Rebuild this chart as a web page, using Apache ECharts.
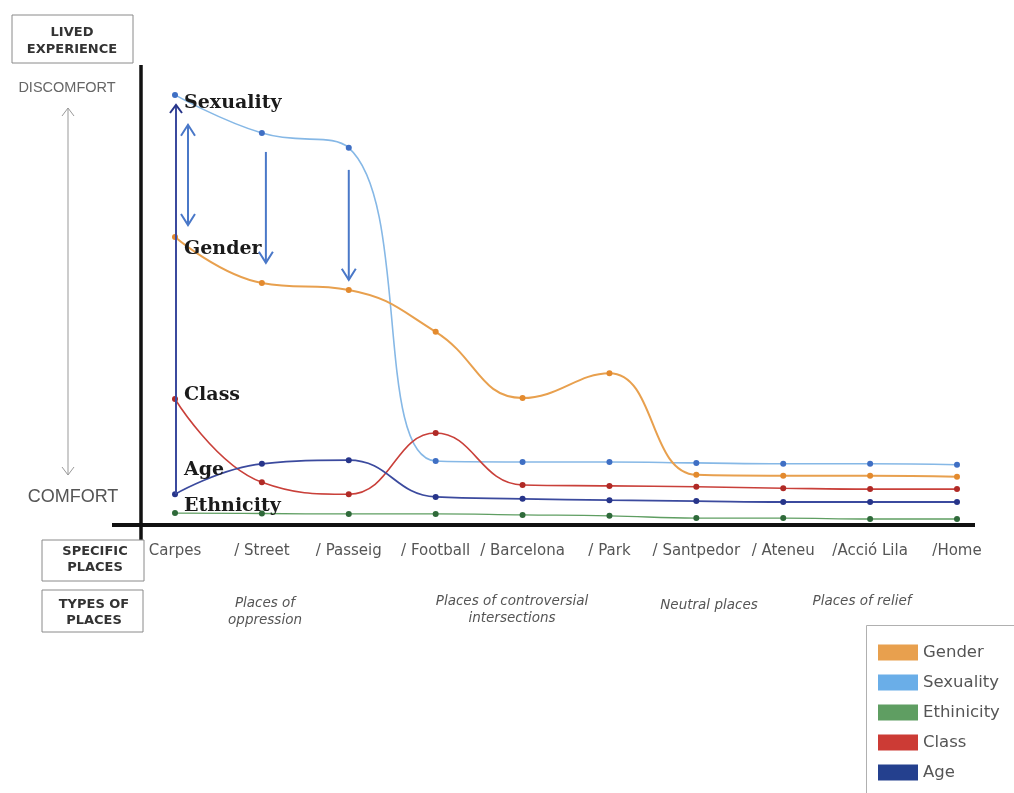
<!DOCTYPE html>
<html>
<head>
<meta charset="utf-8">
<script src="https://cdn.jsdelivr.net/npm/echarts@6/dist/echarts.min.js"></script>
<style>
html,body{margin:0;padding:0;background:#fff;}
#chart{width:1014px;height:793px;}
</style>
</head>
<body>
<div id="chart"></div>
<script>
// ---- data ----
var categories = ["Carpes","Street","Passeig","Football","Barcelona","Park","Santpedor","Ateneu","Acció Lila","Home"];
var tickLabels = ["Carpes","/ Street","/ Passeig","/ Football","/ Barcelona","/ Park","/ Santpedor","/ Ateneu","/Acció Lila","/Home"];
var seriesNames = ["Gender","Sexuality","Ethinicity","Class","Age"];
var seriesLabels = ["Gender","Sexuality","Ethnicity","Class","Age"];
var gender     = [62.6, 52.6, 51.1, 42.0, 27.6, 33.0, 10.9, 10.7, 10.7, 10.5];
var sexuality  = [93.5, 85.2, 82.0, 13.9, 13.7, 13.7, 13.5, 13.3, 13.3, 13.1];
var ethnicity  = [2.6, 2.5, 2.4, 2.4, 2.2, 2.0, 1.5, 1.5, 1.3, 1.3];
var classVals  = [27.4, 9.3, 6.7, 20.0, 8.7, 8.5, 8.3, 8.0, 7.8, 7.8];
var age        = [6.7, 13.3, 14.1, 6.1, 5.7, 5.4, 5.2, 5.0, 5.0, 5.0];
// annotation arrows (category index, from value, to value)
var arrowCats  = [0, 1, 2];
var arrowFrom  = [87.0, 81.1, 77.2];
var arrowTo    = [65.2, 57.0, 53.3];
var ageArrowTop = 91.3;
var placeTypes = [["Places of","oppression"],["Places of controversial","intersections"],["Neutral places"],["Places of relief"]];

var values = [gender, sexuality, ethnicity, classVals, age];
var lineColors  = ["#E8A04E","#86B8E6","#5F9E62","#C9403A","#3B4A9E"];
var pointColors = ["#E38A2E","#3F6FC4","#2F6A3A","#B02A26","#27358A"];
var legendColors= ["#E8A04E","#6AAEE8","#5F9E62","#CC3B35","#24408E"];
var lineWidths  = [2, 1.6, 1.3, 1.6, 1.8];
var labelOffsets= [[0,12],[0,8],[0,-7],[0,-4],[0,-24]];

var chart = echarts.init(document.getElementById('chart'));

var series = values.map(function(arr, k){
  return {
    name: seriesNames[k],
    type: 'line',
    smooth: 0.45,
    symbol: 'circle',
    symbolSize: 6,
    z: k === 1 ? 3 : 4,
    lineStyle: {color: lineColors[k], width: lineWidths[k]},
    itemStyle: {color: pointColors[k]},
    data: arr.map(function(v, i){
      if (i === 0) {
        return {value: v, label: {
          show: true, position: 'right', distance: 6, offset: labelOffsets[k],
          formatter: seriesLabels[k],
          fontFamily: 'DejaVu Serif', fontWeight: 'bold', fontSize: 19, color: '#1a1a1a'
        }};
      }
      return v;
    })
  };
});

chart.setOption({
  animation: false,
  backgroundColor: '#ffffff',
  grid: {left: 175, right: 57, top: 65, bottom: 268},
  xAxis: {
    type: 'category', data: categories, boundaryGap: false,
    axisLine: {show: false}, axisTick: {show: false},
    axisLabel: {
      interval: 0, margin: 19, color: '#555', fontSize: 15, fontFamily: 'DejaVu Sans',
      formatter: function(v, i){ return tickLabels[i]; }
    },
    splitLine: {show: false}
  },
  yAxis: {
    type: 'value', min: 0, max: 100,
    axisLine: {show: false}, axisTick: {show: false}, axisLabel: {show: false}, splitLine: {show: false}
  },
  legend: {
    orient: 'vertical', left: 878, top: 644, bottom: 0,
    padding: 0, z: 20,
    itemWidth: 40, itemHeight: 16, itemGap: 13, icon: 'rect',
    textStyle: {color: '#555', fontSize: 16.5, fontFamily: 'DejaVu Sans'},
    data: seriesNames.map(function(n, k){ return {name: n, itemStyle: {color: legendColors[k]}}; })
  },
  series: series
});

// ---- annotations / decorations ----
function px(i, v){ return chart.convertToPixel({gridIndex: 0}, [i, v]); }
function chevron(x, y, dir, hw, h, color, lw){
  return {type: 'polyline', z: 10, shape: {points: [[x - hw, y - dir * h], [x, y], [x + hw, y - dir * h]]},
          style: {stroke: color, lineWidth: lw, fill: null}};
}
function vline(x, y1, y2, color, lw){
  return {type: 'line', z: 10, shape: {x1: x, y1: y1, x2: x, y2: y2}, style: {stroke: color, lineWidth: lw}};
}
function text(x, y, t, font, color, align){
  return {type: 'text', z: 12, x: x, y: y,
          style: {text: t, font: font, fill: color, textAlign: align || 'center', textVerticalAlign: 'middle'}};
}
function box(x, y, w, h, z){
  return {type: 'rect', z: z || 9, shape: {x: x, y: y, width: w, height: h}, style: {stroke: '#8a8a8a', lineWidth: 1, fill: '#fff'}};
}

var g = [];
// axes
g.push({type: 'line', z: 8, shape: {x1: 112, y1: 525, x2: 975, y2: 525}, style: {stroke: '#111', lineWidth: 4}});
g.push({type: 'line', z: 8, shape: {x1: 141, y1: 65, x2: 141, y2: 543}, style: {stroke: '#111', lineWidth: 3.5}});

// Age vertical arrow at Carpes
var a0 = px(0, age[0]), aTop = px(0, ageArrowTop);
g.push(vline(a0[0] + 1, a0[1], aTop[1], '#3B4A9E', 2));
g.push(chevron(a0[0] + 1, aTop[1], -1, 6, 8, '#27358A', 2));

// blue arrows
var arrowDx = [13, 4, 0];
arrowCats.forEach(function(ci, j){
  var p1 = px(ci, arrowFrom[j]), p2 = px(ci, arrowTo[j]);
  var x = p1[0] + arrowDx[j];
  g.push(vline(x, p1[1], p2[1], '#4A78C8', 2));
  g.push(chevron(x, p2[1], 1, 7, 11, '#4A78C8', 2));
  if (j === 0) g.push(chevron(x, p1[1], -1, 7, 11, '#4A78C8', 2));
});

// legend frame
g.push({type: 'rect', z: 0, shape: {x: 866.5, y: 625.5, width: 200, height: 200}, style: {stroke: '#b0b0b0', lineWidth: 1, fill: '#fff'}});

// left lived experience scale
g.push(box(12, 15, 121, 48));
g.push(text(72, 33, 'LIVED', 'bold 13px "DejaVu Sans"', '#333'));
g.push(text(72, 50, 'EXPERIENCE', 'bold 13px "DejaVu Sans"', '#333'));
g.push(text(67, 88, 'DISCOMFORT', '14.5px "Liberation Sans"', '#666'));
g.push(text(73, 497, 'COMFORT', '18px "Liberation Sans"', '#555'));
g.push(vline(68, 108, 475, '#999', 1));
g.push(chevron(68, 108, -1, 6, 8, '#999', 1));
g.push(chevron(68, 475, 1, 6, 8, '#999', 1));

// bottom boxes
g.push(box(42, 540, 102, 41));
g.push(text(95, 552, 'SPECIFIC', 'bold 13px "DejaVu Sans"', '#333'));
g.push(text(95, 568, 'PLACES', 'bold 13px "DejaVu Sans"', '#333'));
g.push(box(42, 590, 101, 42));
g.push(text(94, 605, 'TYPES OF', 'bold 13px "DejaVu Sans"', '#333'));
g.push(text(94, 621, 'PLACES', 'bold 13px "DejaVu Sans"', '#333'));

// types of places
var ptX = [265, 512, 709, 862];
var ptY = [[603, 620], [601, 618], [605], [601]];
placeTypes.forEach(function(lines, j){
  lines.forEach(function(t, l){
    g.push(text(ptX[j], ptY[j][l], t, 'italic 13.5px "DejaVu Sans"', '#555'));
  });
});

chart.setOption({graphic: g});
</script>
</body>
</html>
